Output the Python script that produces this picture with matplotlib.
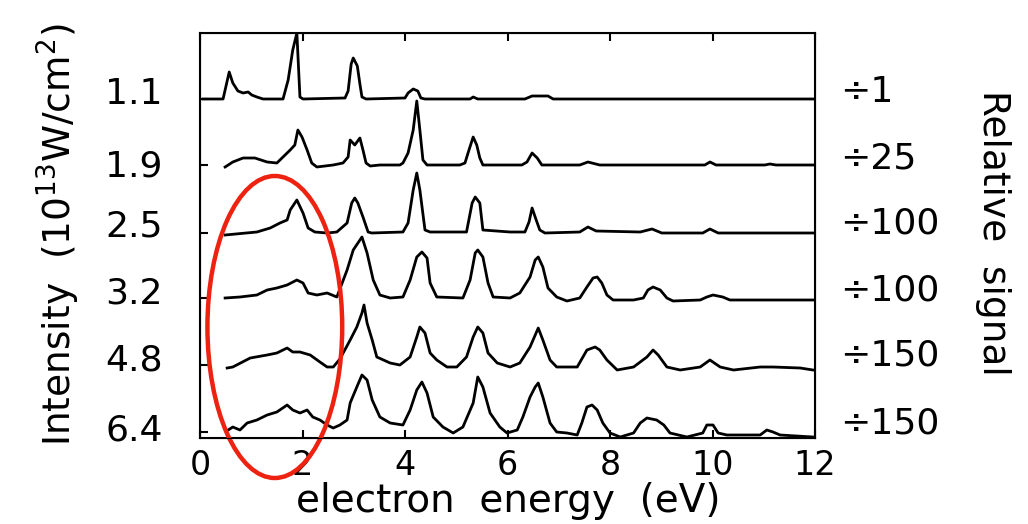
import matplotlib
matplotlib.use("Agg")
import matplotlib.pyplot as plt
from matplotlib.patches import Ellipse

# ---- spectra: electron energy (eV) and signal above each trace's baseline ----
e_11 = [0.06, 0.45, 0.57, 0.64, 0.74, 0.84, 0.94, 1.01, 1.11, 1.23, 1.62, 1.72, 1.81, 1.89, 1.95, 2.01,
        2.83, 2.89, 2.95, 2.99, 3.07, 3.12, 3.16, 3.24, 4.00, 4.06, 4.16, 4.25, 4.31, 4.39, 5.27, 5.33,
        5.42, 6.34, 6.48, 6.79, 6.89, 12.0]
s_11 = [0, 0, 27, 16, 8, 6, 7, 4, 2, 0, 0, 19, 49, 66, 2, 0,
        1, 8, 35, 41, 33, 15, 2, 0, 1, 6, 10, 8, 1, 0, 0, 2,
        0, 0, 3, 3, 0, 0]

e_19 = [0.49, 0.64, 0.84, 1.07, 1.31, 1.50, 1.62, 1.76, 1.85, 1.91, 1.99, 2.09, 2.18, 2.28, 2.60, 2.79,
        2.89, 2.93, 3.02, 3.12, 3.18, 3.24, 3.32, 3.51, 3.90, 3.96, 4.06, 4.16, 4.23, 4.29, 4.35, 4.43,
        5.07, 5.17, 5.23, 5.33, 5.40, 5.46, 5.52, 6.28, 6.38, 6.48, 6.58, 6.67, 7.41, 7.57, 7.80, 9.85,
        9.95, 10.07, 11.02, 11.12, 11.24, 12.0]
s_19 = [-2, 3, 7, 7, 3, 2, 8, 15, 20, 35, 28, 15, 2, -2, 0, 2,
        8, 25, 20, 27, 15, 2, -1, 0, 0, 2, 12, 35, 64, 35, 5, 0,
        0, 2, 12, 28, 20, 7, 0, 0, 3, 12, 7, 0, 0, 3, 0, 0,
        3, 0, 0, 1, 0, 0]

e_25 = [0.49, 1.11, 1.37, 1.56, 1.70, 1.76, 1.89, 2.01, 2.11, 2.24, 2.48, 2.67, 2.87, 2.96, 3.02, 3.08,
        3.18, 3.28, 3.35, 3.96, 4.06, 4.16, 4.23, 4.29, 4.39, 4.49, 5.20, 5.31, 5.37, 5.46, 5.52, 6.05,
        6.34, 6.42, 6.48, 6.56, 6.63, 6.73, 7.41, 7.57, 7.73, 8.59, 8.82, 9.01, 9.81, 9.95, 10.11, 12.0]
s_25 = [-2, 1, 5, 10, 13, 23, 33, 20, 5, 1, 0, 1, 10, 30, 35, 30,
        16, 1, 0, 1, 10, 43, 60, 43, 3, 1, 1, 30, 36, 30, 3, 1,
        1, 11, 25, 13, 3, 0, 1, 6, 2, 1, 4, 0, 0, 4, 0, 0]

e_32 = [0.49, 0.78, 1.11, 1.31, 1.50, 1.70, 1.89, 2.01, 2.11, 2.28, 2.48, 2.67, 2.87, 2.99, 3.16, 3.26,
        3.38, 3.51, 3.71, 3.96, 4.10, 4.23, 4.33, 4.43, 4.49, 4.62, 5.13, 5.27, 5.37, 5.42, 5.52, 5.62,
        5.72, 6.05, 6.24, 6.44, 6.54, 6.60, 6.69, 6.79, 6.96, 7.16, 7.41, 7.55, 7.67, 7.75, 7.84, 7.94,
        8.06, 8.46, 8.65, 8.74, 8.84, 8.98, 9.11, 9.23, 9.76, 9.89, 10.01, 10.20, 10.34, 12.0]
s_32 = [0, 1, 3, 8, 10, 13, 18, 15, 5, 3, 5, 1, 28, 48, 61, 45,
        18, 3, 0, 1, 18, 41, 46, 40, 15, 1, 0, 18, 45, 48, 41, 15,
        1, 0, 5, 21, 38, 41, 31, 10, 1, -3, 0, 11, 20, 21, 15, 3,
        -2, -2, 0, 8, 11, 8, 0, -3, -2, 1, 3, 1, -2, -2]

e_48 = [0.53, 0.64, 0.98, 1.31, 1.50, 1.70, 1.81, 1.95, 2.15, 2.34, 2.48, 2.60, 2.73, 2.93, 3.06, 3.16,
        3.20, 3.26, 3.36, 3.45, 3.71, 3.90, 4.10, 4.23, 4.29, 4.39, 4.49, 4.62, 4.82, 5.01, 5.20, 5.33,
        5.42, 5.52, 5.62, 5.80, 6.05, 6.24, 6.44, 6.60, 6.69, 6.83, 6.96, 7.36, 7.55, 7.71, 7.80, 7.94,
        8.14, 8.46, 8.72, 8.84, 8.94, 9.11, 9.37, 9.76, 9.95, 10.15, 10.41, 10.93, 11.18, 11.71, 11.96]
s_48 = [-3, -2, 7, 10, 12, 17, 13, 13, 10, 3, -2, -2, 6, 25, 38, 52,
        60, 42, 25, 8, 2, 0, 8, 28, 38, 32, 12, 5, -2, -2, 8, 28,
        38, 32, 12, 2, -2, 2, 18, 37, 25, 5, -2, -2, 15, 18, 15, 5,
        -5, -2, 8, 15, 10, -2, -5, -2, 5, -2, -5, -2, -2, -3, -5]

e_64 = [0.55, 0.64, 0.78, 0.92, 1.11, 1.31, 1.50, 1.70, 1.81, 1.95, 2.09, 2.20, 2.34, 2.48, 2.60, 2.73,
        2.87, 2.93, 3.06, 3.16, 3.26, 3.36, 3.51, 3.71, 3.96, 4.10, 4.23, 4.33, 4.43, 4.55, 4.74, 4.94,
        5.13, 5.33, 5.42, 5.52, 5.66, 5.85, 5.99, 6.19, 6.30, 6.44, 6.54, 6.60, 6.69, 6.83, 6.96, 7.16,
        7.36, 7.45, 7.55, 7.65, 7.75, 7.86, 8.00, 8.20, 8.46, 8.59, 8.72, 8.91, 9.05, 9.17, 9.50, 9.81,
        9.89, 10.01, 10.11, 10.28, 10.93, 11.06, 11.18, 11.32, 11.96]
s_64 = [2, 5, 2, 9, 12, 17, 20, 27, 22, 19, 22, 15, 12, 7, 4, 7,
        12, 29, 45, 57, 52, 32, 15, 9, 7, 22, 42, 50, 39, 15, 5, -1,
        5, 29, 55, 45, 19, 5, -1, 2, 15, 35, 45, 49, 35, 9, 0, -1,
        -3, 9, 25, 27, 22, 9, -1, -5, -1, 9, 14, 12, 7, -1, -5, -1,
        7, 7, -1, -3, -3, 2, 0, -3, -5]

intensity_labels = ["1.1", "1.9", "2.5", "3.2", "4.8", "6.4"]
scale_labels = ["\u00f71", "\u00f725", "\u00f7100", "\u00f7100", "\u00f7150", "\u00f7150"]
energies = [e_11, e_19, e_25, e_32, e_48, e_64]
signals = [s_11, s_19, s_25, s_32, s_48, s_64]

# vertical stacking of the traces
offsets = [339, 273, 205, 140, 73, 6]
left_label_y = [348, 275, 215, 148, 81, 11]
right_label_y = [350, 283, 218, 151, 86, 18]

plt.rcParams['font.family'] = ['DejaVu Sans']
fig = plt.figure(figsize=(10.28, 5.24), dpi=100)
ax = fig.add_axes([200 / 1028, 1 - 438 / 524, 615 / 1028, 405 / 524])

for e, s, off in zip(energies, signals, offsets):
    ax.plot(e, [v + off for v in s], color='black', linewidth=2.0, solid_joinstyle='round')

ax.set_xlim(0, 12)
ax.set_ylim(0, 405)
for sp in ax.spines.values():
    sp.set_linewidth(1.5)

ax.set_xticks(range(0, 13, 2))
ax.tick_params(axis='x', direction='in', length=6, width=1.5, top=True,
               labelsize=24, pad=8)

# intensity labels on the left, small inward ticks at the baselines
ax.set_yticks(left_label_y)
ax.set_yticklabels(intensity_labels)
ax.tick_params(axis='y', which='major', length=0, labelsize=26, pad=27)
ax.set_yticks(offsets, minor=True)
ax.tick_params(axis='y', which='minor', direction='in', length=6, width=1.5)

# scale factors on the right
ax2 = ax.twinx()
ax2.set_ylim(0, 405)
ax2.set_yticks(right_label_y)
ax2.set_yticklabels(scale_labels)
ax2.tick_params(axis='y', length=0, labelsize=26, pad=18)

fig.text(58 / 1028, 1 - 235 / 524, "Intensity  (10$^{13}$W/cm$^2$)", rotation=90,
         ha='center', va='center', fontsize=27)
fig.text(993 / 1028, 1 - 233 / 524, "Relative  signal", rotation=-90,
         ha='center', va='center', fontsize=27)
fig.text(508 / 1028, 1 - 501 / 524, "electron  energy  (eV)",
         ha='center', va='center', fontsize=28)

# highlight the low-energy region
ax.add_patch(Ellipse((1.46, 111), 2.63, 302, fill=False, edgecolor='#ee2211',
                     linewidth=3.2, clip_on=False, zorder=5))

fig.savefig("out.png", dpi=100)
